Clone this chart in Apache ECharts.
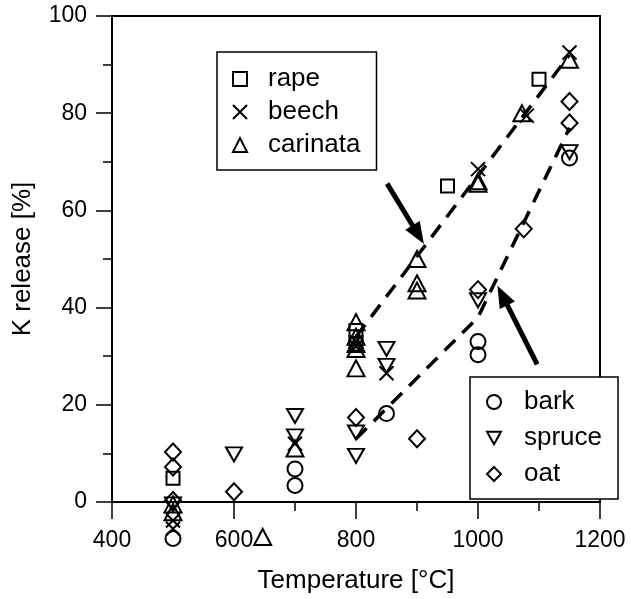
<!DOCTYPE html>
<html>
<head>
<meta charset="utf-8">
<script src="https://cdn.jsdelivr.net/npm/echarts@6/dist/echarts.min.js"></script>
<style>
  html, body { margin: 0; padding: 0; background: #fff; }
  #chart { width: 631px; height: 599px; }
</style>
</head>
<body>
<div id="chart"></div>
<script>
// [temperature, K release %]
const rape = [[500, 4.9], [800, 35.3], [800, 32.5], [950, 65], [1100, 87]]
const beech = [[500, -3.8], [500, -5.5], [700, 12], [800, 33], [800, 32], [850, 26.5],
  [1000, 68.5], [1080, 79.5], [1150, 92.5]]
const carinata = [[500, -0.5], [500, -2.1], [647, -7.2], [700, 11], [800, 37], [800, 34],
  [800, 32.5], [800, 31.5], [800, 27.5], [900, 50], [900, 45], [900, 43.5],
  [1000, 66], [1000, 65.5], [1072, 80], [1150, 91]]
const bark = [[500, -7.5], [700, 6.8], [700, 3.4], [850, 18.2], [1000, 33], [1000, 30.3], [1150, 70.8]]
const spruce = [[500, -0.5], [600, 9.8], [700, 17.7], [700, 13.5], [800, 14.3], [800, 9.5],
  [850, 31.5], [850, 28], [1000, 41.5], [1150, 72]]
const oat = [[500, 10.3], [500, 7.2], [500, 0.3], [600, 2.1], [800, 17.4], [900, 13],
  [1000, 43.7], [1075, 56.2], [1150, 82.4], [1150, 78]]

// dashed trend lines
const trendUpper = [[800, 34], [1150, 92]]
const trendLower = [[800, 13], [1000, 38], [1150, 77]]

// arrows [from, to]
const arrowUpper = [[851, 65.5], [902, 55]]
const arrowLower = [[1097, 28.3], [1040, 42.5]]

const FONT = 'Liberation Sans'
const hollow = { color: 'rgba(0,0,0,0)', borderColor: '#000', borderWidth: 2, opacity: 1 }
const crossPath = 'path://M0,0L10,10M0,10L10,0'
const downTriPath = 'path://M0,0L10,0L5,9Z'

function scatter(name, data, symbol, size) {
  return {
    name: name,
    type: 'scatter',
    data: data,
    symbol: symbol,
    symbolSize: size,
    clip: false,
    z: 3,
    itemStyle: hollow
  }
}

function dashed(data) {
  return {
    type: 'line',
    data: data,
    symbol: 'none',
    silent: true,
    z: 2,
    lineStyle: { color: '#000', width: 3.5, type: [15, 10] }
  }
}

function arrow(pts) {
  return {
    type: 'line',
    data: [],
    silent: true,
    markLine: {
      silent: true,
      symbol: ['none', 'triangle'],
      symbolSize: [17, 22],
      label: { show: false },
      lineStyle: { color: '#000', width: 5, type: 'solid' },
      data: [[{ coord: pts[0] }, { coord: pts[1] }]]
    }
  }
}

const chart = echarts.init(document.getElementById('chart'))
chart.setOption({
  animation: false,
  textStyle: { fontFamily: FONT },
  grid: {
    left: 112, right: 31, top: 16, bottom: 96,
    show: true, borderColor: '#000', borderWidth: 2
  },
  legend: [{
    data: ['rape', 'beech', 'carinata'],
    orient: 'vertical', left: 217, top: 52,
    padding: [14, 16, 12, 15],
    itemGap: 7, itemWidth: 14, itemHeight: 14,
    borderColor: '#000', borderWidth: 1.5,
    itemStyle: hollow,
    textStyle: { fontSize: 26, color: '#000', fontFamily: FONT, padding: [0, 0, 0, 16] }
  }, {
    data: ['bark', 'spruce', 'oat'],
    orient: 'vertical', left: 470, top: 377,
    padding: [12, 16, 12, 16],
    itemGap: 10, itemWidth: 14, itemHeight: 14,
    borderColor: '#000', borderWidth: 1.5,
    backgroundColor: '#fff',
    itemStyle: hollow,
    textStyle: { fontSize: 26, color: '#000', fontFamily: FONT, padding: [0, 0, 0, 18] }
  }],
  xAxis: {
    type: 'value', min: 400, max: 1200, interval: 200,
    name: 'Temperature [°C]', nameLocation: 'middle', nameGap: 66,
    nameTextStyle: { fontSize: 26, color: '#000', fontFamily: FONT },
    axisLine: { onZero: false, lineStyle: { color: '#000', width: 2 } },
    axisTick: { length: 17, lineStyle: { color: '#000', width: 1.5 } },
    minorTick: { show: true, splitNumber: 2, length: 9, lineStyle: { color: '#000', width: 1.5 } },
    axisLabel: { fontSize: 23, color: '#000', margin: 27, fontFamily: FONT, formatter: v => String(v) },
    splitLine: { show: false }
  },
  yAxis: {
    type: 'value', min: 0, max: 100, interval: 20,
    name: 'K release [%]', nameLocation: 'middle', nameGap: 76,
    nameTextStyle: { fontSize: 26, color: '#000', fontFamily: FONT },
    axisLine: { lineStyle: { color: '#000', width: 2 } },
    axisTick: { length: 16, lineStyle: { color: '#000', width: 1.5 } },
    minorTick: { show: true, splitNumber: 2, length: 9, lineStyle: { color: '#000', width: 1.5 } },
    axisLabel: { fontSize: 23, color: '#000', margin: 25, fontFamily: FONT, formatter: v => String(v) },
    splitLine: { show: false }
  },
  series: [
    dashed(trendUpper),
    dashed(trendLower),
    arrow(arrowUpper),
    arrow(arrowLower),
    scatter('rape', rape, 'rect', 13),
    scatter('beech', beech, crossPath, 14),
    scatter('carinata', carinata, 'triangle', [17, 16]),
    scatter('bark', bark, 'circle', 15),
    scatter('spruce', spruce, downTriPath, [16, 14]),
    scatter('oat', oat, 'diamond', [16, 17])
  ]
})
</script>
</body>
</html>
